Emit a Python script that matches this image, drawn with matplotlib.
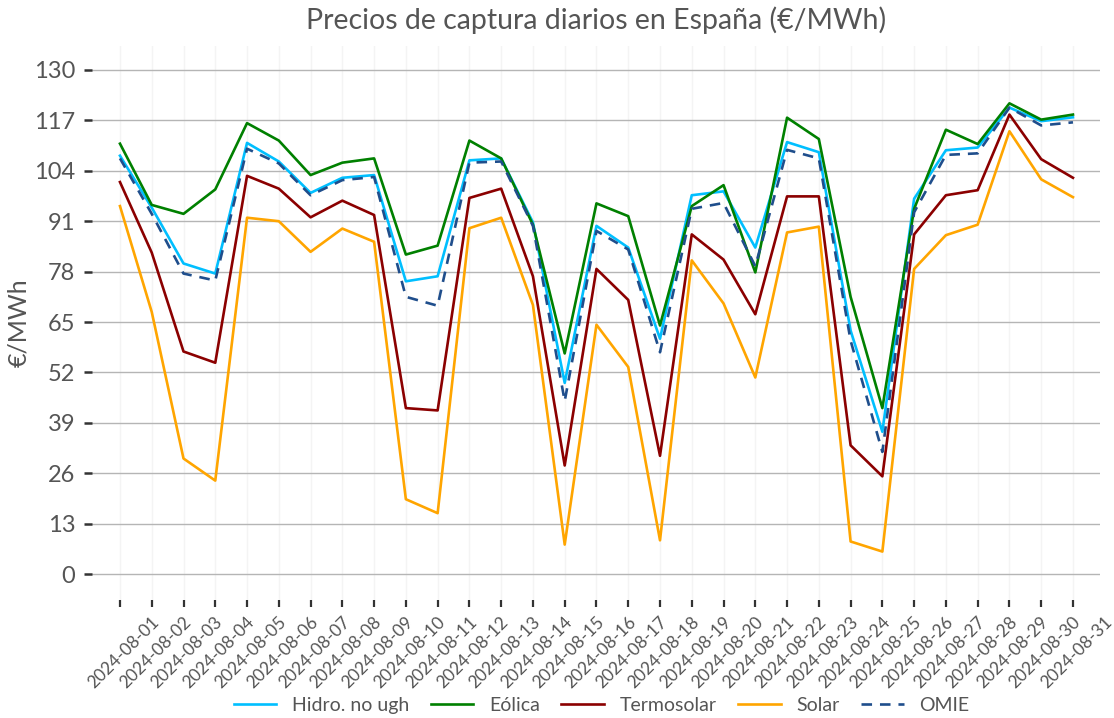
import matplotlib
matplotlib.use("Agg")
import matplotlib.pyplot as plt
import matplotlib.transforms as mtransforms
import numpy as np

plt.rcParams['font.family'] = ['Lato', 'DejaVu Sans']

fechas = ["2024-08-%02d" % d for d in range(1, 32)]

hidro = [107.9, 94.5, 80.1, 77.5, 111.2, 106.4, 98.3, 102.2, 102.9, 75.5,
         76.8, 106.7, 107.2, 90.7, 49.3, 89.8, 84.2, 60.7, 97.7, 98.7,
         84.2, 111.4, 108.8, 62.8, 36.7, 96.8, 109.3, 110.0, 120.3, 116.8, 117.8]
eolica = [111.0, 95.2, 92.9, 99.2, 116.3, 111.8, 102.9, 106.1, 107.2, 82.4,
          84.7, 111.8, 107.2, 90.1, 56.9, 95.6, 92.3, 64.1, 94.9, 100.3,
          77.8, 117.7, 112.2, 71.5, 42.8, 94.2, 114.6, 110.9, 121.4, 117.2, 118.5]
termosolar = [101.1, 82.9, 57.4, 54.5, 102.7, 99.4, 92.0, 96.3, 92.6, 42.8,
              42.2, 97.0, 99.4, 76.8, 28.0, 78.7, 70.7, 30.5, 87.6, 81.1,
              67.0, 97.4, 97.4, 33.2, 25.2, 87.6, 97.7, 99.0, 118.5, 107.0, 102.2]
solar = [94.9, 67.6, 29.8, 24.1, 91.9, 91.0, 83.1, 89.1, 85.7, 19.3,
         15.7, 89.2, 91.9, 69.4, 7.6, 64.3, 53.4, 8.7, 80.9, 69.8,
         50.7, 88.1, 89.6, 8.4, 5.8, 78.7, 87.4, 90.1, 114.2, 101.8, 97.2]
omie = [107.2, 92.9, 77.5, 75.7, 109.7, 105.9, 97.7, 101.6, 102.4, 71.5,
        69.2, 106.1, 106.4, 89.8, 44.6, 88.5, 83.7, 57.2, 94.2, 95.7,
        79.4, 109.4, 107.2, 60.2, 31.5, 93.3, 108.1, 108.5, 120.3, 115.7, 116.5]

yticks = [0, 13, 26, 39, 52, 65, 78, 91, 104, 117, 130]
gris = "#555555"

fig = plt.figure(figsize=(11.14, 7.18), dpi=100)
ax = fig.add_axes([0.0826, 0.1643, 0.9048, 0.7717])

x = np.arange(len(fechas))
lw = 1.9
ax.plot(x, hidro, color="#00BFFF", lw=lw, label="Hidro. no ugh")
ax.plot(x, eolica, color="#008000", lw=lw, label="Eólica")
ax.plot(x, termosolar, color="#8B0000", lw=lw, label="Termosolar")
ax.plot(x, solar, color="#FFA500", lw=lw, label="Solar")
ax.plot(x, omie, color="#1F4E8C", lw=lw, ls=(0, (4, 3)), label="OMIE")

ax.set_xlim(-0.88, 30.85)
ax.set_ylim(-6.7, 136.2)
ax.set_yticks(yticks)
ax.set_xticks(x)
ax.set_xticklabels([])

# etiquetas del eje x desplazadas a la derecha, como en el original
trans = mtransforms.blended_transform_factory(ax.transData, ax.transAxes)
trans = trans + mtransforms.ScaledTranslation(0.31, -0.14, fig.dpi_scale_trans)
for xi, f in zip(x, fechas):
    ax.text(xi, 0, f, transform=trans, rotation=45, ha="right", va="top",
            rotation_mode="anchor", fontsize=12.5, color=gris)

ax.tick_params(axis="y", length=6, width=1.8, color="#333333", pad=6,
               labelsize=17, labelcolor=gris)
ax.tick_params(axis="x", length=5, width=1.6, color="#333333", pad=2)

ax.grid(axis="y", color="#b5b5b5", lw=1)
ax.grid(axis="x", color="#f4f4f4", lw=1)
ax.set_axisbelow(True)
for s in ax.spines.values():
    s.set_visible(False)

ax.set_ylabel("€/MWh", fontsize=18, color=gris, labelpad=3)
ax.set_title("Precios de captura diarios en España (€/MWh)", fontsize=20.5,
             color=gris, pad=12)

fig.legend(loc="center", bbox_to_anchor=(0.54, 0.017), ncol=5, frameon=False,
           fontsize=14, handlelength=2.2, columnspacing=1.1,
           labelcolor=gris)

fig.savefig("out.png", dpi=100)
